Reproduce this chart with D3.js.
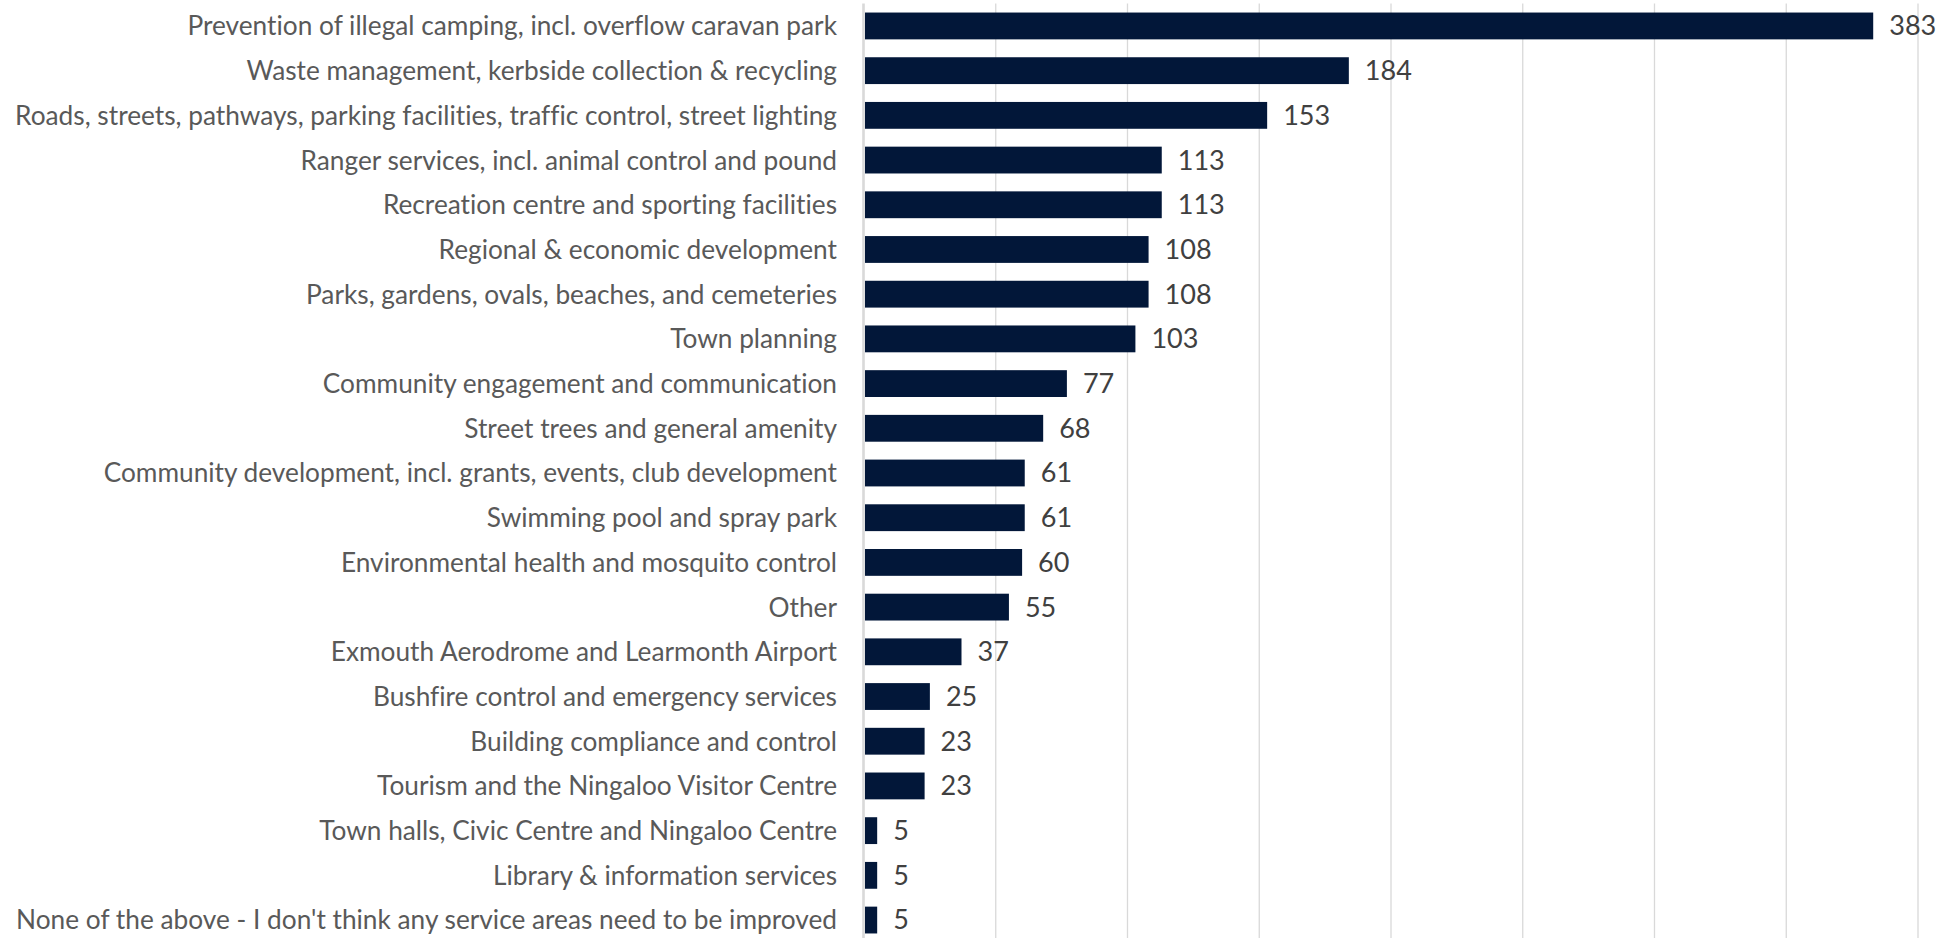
<!DOCTYPE html>
<html>
<head>
<meta charset="utf-8">
<script src="https://cdn.jsdelivr.net/npm/d3@7"></script>
<style>
  html, body { margin: 0; padding: 0; background: #ffffff; }
  svg { display: block; }
  text { font-variant-ligatures: none; font-feature-settings: "liga" 0, "clig" 0; }
</style>
</head>
<body>
<svg id="chart" width="1955" height="938"></svg>
<script>
// Service areas to improve, with number of responses
const categories = [
  "Prevention of illegal camping, incl. overflow caravan park",
  "Waste management, kerbside collection & recycling",
  "Roads, streets, pathways, parking facilities, traffic control, street lighting",
  "Ranger services, incl. animal control and pound",
  "Recreation centre and sporting facilities",
  "Regional & economic development",
  "Parks, gardens, ovals, beaches, and cemeteries",
  "Town planning",
  "Community engagement and communication",
  "Street trees and general amenity",
  "Community development, incl. grants, events, club development",
  "Swimming pool and spray park",
  "Environmental health and mosquito control",
  "Other",
  "Exmouth Aerodrome and Learmonth Airport",
  "Bushfire control and emergency services",
  "Building compliance and control",
  "Tourism and the Ningaloo Visitor Centre",
  "Town halls, Civic Centre and Ningaloo Centre",
  "Library & information services",
  "None of the above - I don't think any service areas need to be improved"
];
const responses = [383, 184, 153, 113, 113, 108, 108, 103, 77, 68, 61, 61, 60, 55, 37, 25, 23, 23, 5, 5, 5];
const xTicks = [0, 50, 100, 150, 200, 250, 300, 350, 400];

const svg = d3.select("#chart");
const fontFamily = "Lato, 'Open Sans', sans-serif";

const plot = { left: 864, right: 1918, top: 3.6, bottom: 942.4 };

const x = d3.scaleLinear().domain([0, 400]).range([plot.left, plot.right]);
const y = d3.scaleBand()
  .domain(categories)
  .range([plot.top, plot.bottom])
  .paddingInner(0.4)
  .paddingOuter(0.2);

// Size the label font so the longest category fits the space left of the axis
const labelRight = 837, labelLeft = 15;
const probe = svg.append("text")
  .attr("font-family", fontFamily).attr("font-size", 100)
  .text(categories[2]);
const probeW = probe.node().getComputedTextLength();
probe.remove();
const fontSize = 100 * (labelRight - labelLeft) / probeW;
const baselineShift = fontSize * 0.36;

// Vertical gridlines
svg.append("g")
  .selectAll("line")
  .data(xTicks.filter(d => d > 0))
  .join("line")
  .attr("x1", d => x(d)).attr("x2", d => x(d))
  .attr("y1", plot.top).attr("y2", plot.bottom)
  .attr("stroke", "#d9d9d9")
  .attr("stroke-width", 1.3);

// Category axis line
svg.append("line")
  .attr("x1", x(0) - 0.5).attr("x2", x(0) - 0.5)
  .attr("y1", plot.top).attr("y2", plot.bottom)
  .attr("stroke", "#d9d9d9")
  .attr("stroke-width", 2.6);

// Bars
svg.append("g")
  .selectAll("rect")
  .data(categories)
  .join("rect")
  .attr("x", x(0) + 1)
  .attr("y", d => y(d))
  .attr("width", (d, i) => x(responses[i]) - x(0) - 1)
  .attr("height", y.bandwidth())
  .attr("fill", "#021739");

// Category labels
svg.append("g")
  .selectAll("text")
  .data(categories)
  .join("text")
  .attr("x", labelRight)
  .attr("y", d => y(d) + y.bandwidth() / 2 + baselineShift)
  .attr("text-anchor", "end")
  .attr("font-family", fontFamily)
  .attr("font-size", fontSize)
  .attr("fill", "#595959")
  .text(d => d);

// Value labels
svg.append("g")
  .selectAll("text")
  .data(categories)
  .join("text")
  .attr("x", (d, i) => x(responses[i]) + 16)
  .attr("y", d => y(d) + y.bandwidth() / 2 + baselineShift)
  .attr("font-family", fontFamily)
  .attr("font-size", fontSize * 1.03)
  .attr("fill", "#404040")
  .text((d, i) => responses[i]);
</script>
</body>
</html>
